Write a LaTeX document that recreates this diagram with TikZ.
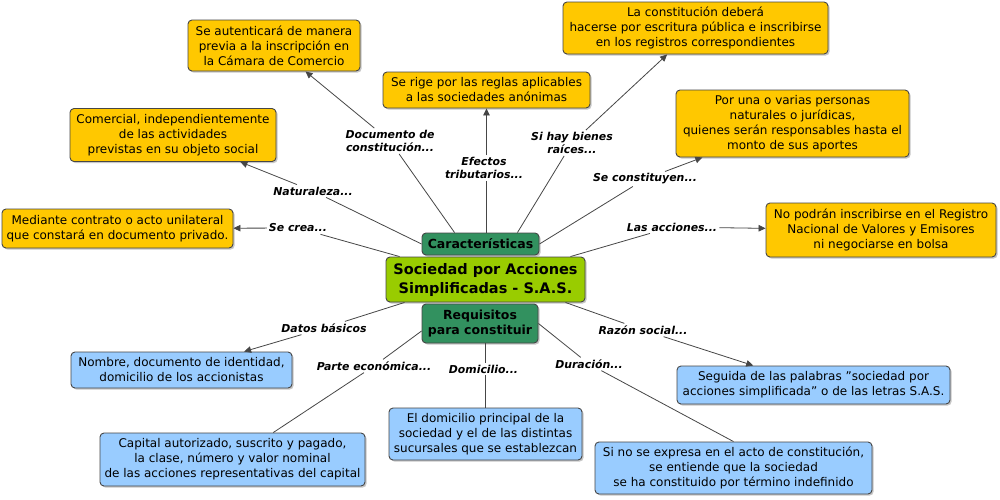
\documentclass[tikz,border=0pt]{standalone}
\usepackage{fontspec}
\setmainfont{DejaVu Sans}
\usetikzlibrary{shadows,arrows.meta}
\definecolor{yel}{RGB}{255,200,0}
\definecolor{blu}{RGB}{153,204,255}
\definecolor{grn}{RGB}{50,145,95}
\definecolor{lgrn}{RGB}{153,204,0}
\definecolor{edge}{RGB}{70,70,70}
\tikzset{
  box/.style={draw=edge, rounded corners=4pt, line width=0.9pt, align=center, inner sep=1pt,
    font=\fontsize{12}{15}\selectfont,
    drop shadow={shadow xshift=1.6pt, shadow yshift=-1.6pt, fill=black!40, opacity=0.55}},
  ybox/.style={box, fill=yel},
  bbox/.style={box, fill=blu},
  gbox/.style={box, fill=grn, font=\fontsize{12.5}{14.5}\selectfont\bfseries},
  mbox/.style={box, fill=lgrn, font=\fontsize{14.5}{19}\selectfont\bfseries},
  lbl/.style={font=\fontsize{10.9}{13}\selectfont\bfseries\itshape, align=center, inner sep=2pt},
  lnk/.style={draw=edge, line width=0.8pt},
  arr/.style={lnk, -{Triangle[length=7pt,width=6.5pt]}},
}
\begin{document}
\begin{tikzpicture}[x=1pt,y=-1pt]
\useasboundingbox[fill=white] (0,0) rectangle (1000,499);
% concept nodes
\node[ybox, minimum width=172pt, minimum height=51pt] (aut) at (274,45.5) {Se autenticará de manera\\previa a la inscripción en\\la Cámara de Comercio};
\node[ybox, minimum width=206pt, minimum height=53pt] (com) at (173,135) {Comercial, independientemente\\de las actividades\\previstas en su objeto social};
\node[ybox, minimum width=231pt, minimum height=39pt] (med) at (117.5,228.5) {Mediante contrato o acto unilateral\\que constará en documento privado.};
\node[ybox, minimum width=207pt, minimum height=36pt] (rig) at (486.5,90) {Se rige por las reglas aplicables\\a las sociedades anónimas};
\node[ybox, minimum width=265pt, minimum height=52pt] (con) at (695.5,28) {La constitución deberá\\hacerse por escritura pública e inscribirse\\en los registros correspondientes};
\node[ybox, minimum width=233pt, minimum height=67pt] (por) at (792.5,123.5) {Por una o varias personas\\naturales o jurídicas,\\quienes serán responsables hasta el\\monto de sus aportes};
\node[ybox, minimum width=230pt, minimum height=54pt] (nop) at (881,230) {No podrán inscribirse en el Registro\\Nacional de Valores y Emisores\\ni negociarse en bolsa};
\node[gbox, minimum width=117pt, minimum height=22pt] (chr) at (480.5,244) {Características};
\node[mbox, minimum width=199pt, minimum height=45pt] (main) at (485.5,279.5) {Sociedad por Acciones\\Simplificadas - S.A.S.};
\node[gbox, minimum width=116pt, minimum height=39pt] (req) at (480,323.5) {Requisitos\\para constituir};
\node[bbox, minimum width=221pt, minimum height=36pt] (nom) at (181.5,370) {Nombre, documento de identidad,\\domicilio de los accionistas};
\node[bbox, minimum width=265pt, minimum height=53pt] (cap) at (232.5,459.5) {Capital autorizado, suscrito y pagado,\\la clase, número y valor nominal\\de las acciones representativas del capital};
\node[bbox, minimum width=193pt, minimum height=52pt] (dom) at (485.5,434) {El domicilio principal de la\\sociedad y el de las distintas\\sucursales que se establezcan};
\node[bbox, minimum width=273pt, minimum height=38pt] (seg) at (813.5,385) {Seguida de las palabras \symbol{34}sociedad por\\acciones simplificada\symbol{34} o de las letras S.A.S.};
\node[bbox, minimum width=277pt, minimum height=52pt] (sin) at (733.5,468) {Si no se expresa en el acto de constitución,\\se entiende que la sociedad\\se ha constituido por término indefinido};
% linking labels
\node[lbl] (ldoc) at (390,141) {Documento de\\constitución...};
\node[lbl] (lefe) at (484,168) {Efectos\\tributarios...};
\node[lbl] (lsi) at (572,143) {Si hay bienes\\raíces...};
\node[lbl] (lnat) at (313,191) {Naturaleza...};
\node[lbl] (lcrea) at (298,228) {Se crea...};
\node[lbl] (lsec) at (645,179) {Se constituyen...};
\node[lbl] (lacc) at (672,227) {Las acciones...};
\node[lbl] (ldat) at (324,328) {Datos básicos};
\node[lbl] (lpar) at (374,366) {Parte económica...};
\node[lbl] (ldom) at (483.5,369) {Domicilio...};
\node[lbl] (ldur) at (589,364) {Duración...};
\node[lbl] (lraz) at (643,330) {Razón social...};
% links from concepts to labels
\draw[lnk] (ldoc) -- ([xshift=33pt]chr.north west);
\draw[lnk] (lefe.south -| rig.south) -- (chr.north -| rig.south);
\draw[lnk] (lsi) -- ([xshift=-22pt]chr.north east);
\draw[lnk] (lnat) -- (chr.west);
\draw[lnk] (lsec) -- (chr.east);
\draw[lnk] (lcrea) -- ([xshift=14pt]main.north west);
\draw[lnk] (lacc) -- ([xshift=-15pt]main.north east);
\draw[lnk] (ldat) -- ([xshift=19pt]main.south west);
\draw[lnk] (lraz) -- ([xshift=-20pt]main.south east);
\draw[lnk] (lpar) -- ([yshift=-7.5pt]req.west);
\draw[lnk] (ldom.north -| dom.north) -- (req.south -| dom.north);
\draw[lnk] (ldur) -- (req.east);
% links from labels to targets
\draw[arr] (ldoc) -- (aut);
\draw[arr] (lefe.north -| rig.south) -- (rig.south);
\draw[arr] (lsi) -- (con);
\draw[arr] (lnat) -- (com);
\draw[arr] (lcrea) -- (med);
\draw[arr] (lsec) -- (por);
\draw[arr] (lacc) -- (nop);
\draw[arr] (ldat) -- (nom);
\draw[arr] (lraz) -- (seg);
\draw[lnk] (lpar) -- (cap);
\draw[lnk] (ldom.south -| dom.north) -- (dom.north);
\draw[lnk] (ldur) -- (sin.north);
\end{tikzpicture}
\end{document}
